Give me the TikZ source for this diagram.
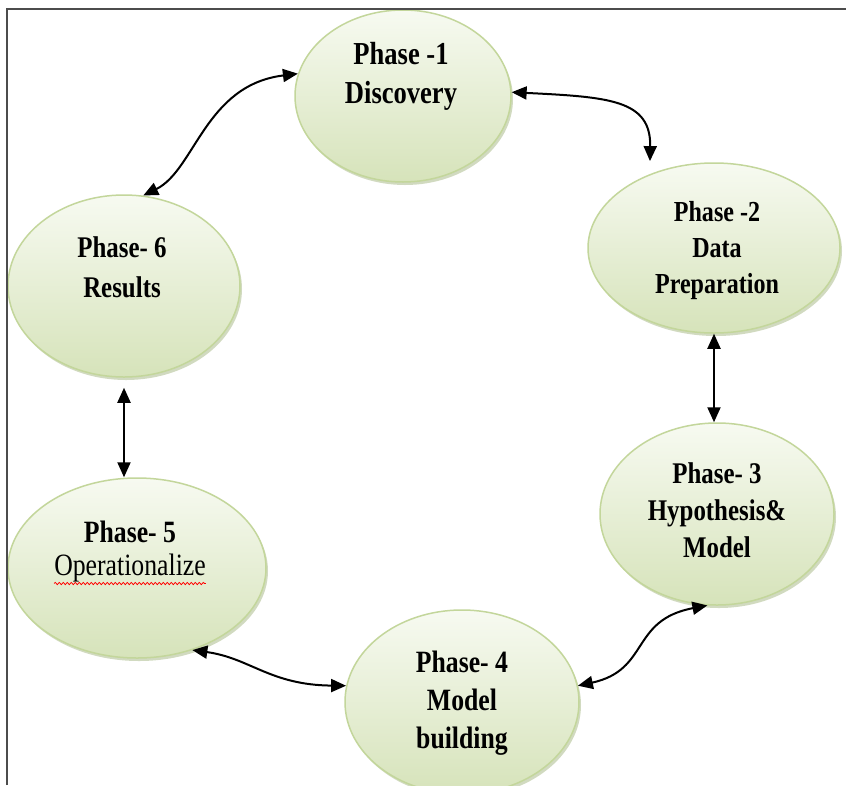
\documentclass[tikz,border=0pt]{standalone}
\usepackage{fontspec}
\newfontfamily\phfont[FakeStretch=0.83]{Liberation Serif}
\usetikzlibrary{arrows.meta,shadows,shapes.geometric,decorations.pathmorphing}
\definecolor{ebord}{HTML}{C3D69B}
\definecolor{etop}{HTML}{F7FAF1}
\definecolor{ebot}{HTML}{D6E3BA}
\definecolor{eshad}{HTML}{9BAF74}
\begin{document}
\begin{tikzpicture}[x=1pt,y=-1pt,
  phase/.style={ellipse, draw=ebord, line width=1.5pt, top color=etop, bottom color=ebot,
    inner sep=0pt, drop shadow={shadow xshift=2pt, shadow yshift=-3pt, fill=eshad, opacity=0.45}},
  lbl/.style={align=center, anchor=north, inner sep=0pt, text=black},
  conn/.style={line width=2pt, draw=black,
    {Triangle[length=15pt,width=13pt]}-{Triangle[length=15pt,width=13pt]}}]
\useasboundingbox (0,0) rectangle (846,785);
\clip (0,0) rectangle (846,785);
\fill[white] (0,0) rectangle (846,785);

% ellipses
\node[phase, minimum width=216pt, minimum height=172pt] (e1) at (403,96) {};
\node[phase, minimum width=252pt, minimum height=170pt] (e2) at (714,248) {};
\node[phase, minimum width=234pt, minimum height=182pt] (e3) at (717,514) {};
\node[phase, minimum width=234pt, minimum height=184pt] (e4) at (462,702) {};
\node[phase, minimum width=258pt, minimum height=180pt] (e5) at (137,568) {};
\node[phase, minimum width=232pt, minimum height=182pt] (e6) at (124,286) {};

% labels
\node[lbl, font=\phfont\bfseries\fontsize{32}{39}\selectfont] (t1) at (401,42) {Phase -1\\Discovery};
\node[lbl, font=\phfont\bfseries\fontsize{29}{36}\selectfont] (t2) at (717,201) {Phase -2\\Data\\Preparation};
\node[lbl, font=\phfont\bfseries\fontsize{30}{37}\selectfont] (t3) at (717,462) {Phase- 3\\Hypothesis\&\\Model};
\node[lbl, font=\phfont\bfseries\fontsize{31}{38}\selectfont] (t4) at (462,651) {Phase- 4\\Model\\building};
\node[lbl, font=\phfont\fontsize{31}{33}\selectfont] (t5) at (130,521) {{\bfseries Phase- 5}\\Operationalize};
\node[lbl, font=\phfont\bfseries\fontsize{30}{40}\selectfont] (t6) at (122,236) {Phase- 6\\Results};

% spell-check underline
\draw[red, line width=0.8pt, decorate, decoration={snake, amplitude=1.1pt, segment length=4pt}]
  ([yshift=-1pt]t5.south west) -- ([yshift=-1pt]t5.south east);

% connectors
\draw[conn] (e6.78) .. controls (195,170) and (205,85) .. (e1.168);
\draw[conn, shorten >=13pt] (e1.2) .. controls (610,97) and (651,100) .. (e2.131.7);
\draw[conn] (e2.south) -- (e2.south |- e3.north);
\draw[conn] (e4.8) .. controls (650,670) and (630,620) .. (e3.264);
\draw[conn] (e5.-56.5) .. controls (250,658) and (270,685) .. (e4.172);
\draw[conn, shorten <=10pt] (e6.south) -- (e6.south |- e5.north);

% frame
\draw[line width=1.5pt, black!70] (7,785) -- (7,9) -- (846,9);
\end{tikzpicture}
\end{document}
